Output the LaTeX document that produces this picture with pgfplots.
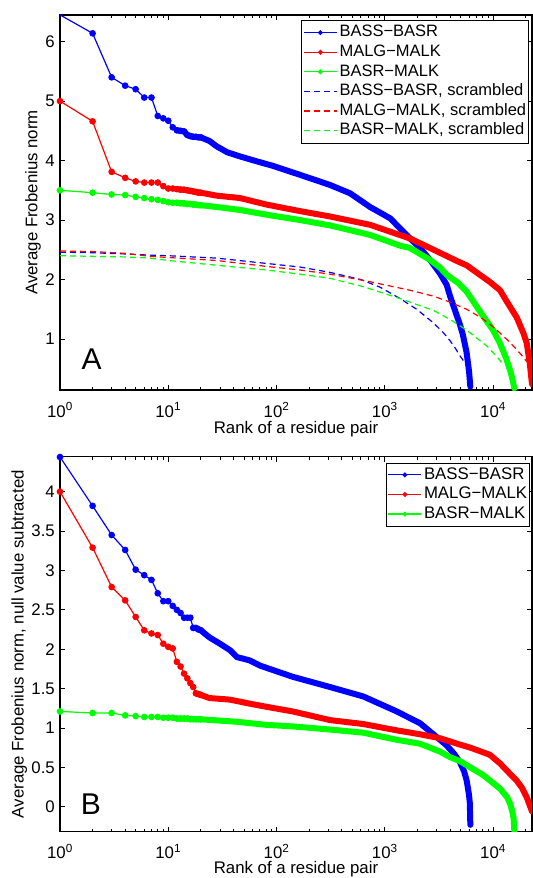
\documentclass[border=0pt]{standalone}
\usepackage{fontspec}
\setmainfont{Liberation Sans}
\usepackage{pgfplots}
\pgfplotsset{compat=1.18}
\definecolor{mblue}{RGB}{0,0,255}
\definecolor{mred}{RGB}{255,0,0}
\definecolor{mgreen}{RGB}{0,255,0}
\pgfplotsset{
  legend image code/.code={\draw[mark repeat=2,mark phase=2,#1,mark size=1.8bp] plot coordinates {(0bp,0bp) (16.5bp,0bp) (33bp,0bp)};},
}
\begin{document}
\fontsize{16.8bp}{20bp}\selectfont
\begin{tikzpicture}
\path[use as bounding box] (0bp,0bp) rectangle (533bp,-878bp);
% ---------------- Panel A ----------------
\begin{axis}[at={(60bp,-390bp)}, anchor=south west,
  scale only axis, width=472bp, height=375bp,
  xmode=log, xmin=1, xmax=22900,
  xtick={1,10,100,1000,10000},
  xticklabels={10\textsuperscript{0},10\textsuperscript{1},10\textsuperscript{2},10\textsuperscript{3},10\textsuperscript{4}},
  minor xtick={2,3,4,5,6,7,8,9,20,30,40,50,60,70,80,90,200,300,400,500,600,700,800,900,2000,3000,4000,5000,6000,7000,8000,9000,20000},
  tick align=inside,
  major tick length=5bp, minor tick length=3bp,
  tick style={black, line width=0.8bp},
  axis line style={line width=1.3bp},
  xticklabel style={anchor=base, yshift=-27bp, inner sep=0pt},
  yticklabel style={anchor=east, xshift=-5bp, inner sep=0pt},
  xlabel style={at={(axis description cs:0.5,-0.1147)}, anchor=base, inner sep=0pt},
  ymin=0.142, ymax=6.448,
  ytick={1,2,3,4,5,6}, yticklabels={1,2,3,4,5,6},
  xlabel={Rank of a residue pair},
  ylabel={Average Frobenius norm},
  ylabel style={at={(axis description cs:-0.0572,0.5)}, anchor=center, inner sep=0pt},
  legend cell align=left,
  legend style={at={(axis description cs:0.9936,0.9867)}, anchor=north east, draw=black, line width=0.7bp, inner xsep=1.5bp, inner ysep=2.5bp, row sep=0pt,
      font=\fontsize{16.5bp}{20bp}\selectfont,
      /tikz/every odd column/.append style={column sep=1bp},
      nodes={inner xsep=1bp, inner ysep=1.6bp, text height=12.4bp, text depth=4bp}},
]
\addplot[color=mblue, draw=mblue, line width=1.2bp, mark=*, mark size=2.7bp, mark options={solid, fill=mblue, draw=mblue}] coordinates {(1,6.45) (2,6.14) (3,5.40) (4,5.26) (5,5.20) (6,5.06) (7,5.06) (8,4.75) (9,4.71) (10,4.67) (11,4.56) (12,4.51) (13,4.50) (14,4.49) (15,4.43) (16,4.41) (17,4.40) (18,4.40) (19,4.39) (20,4.39)};
\addplot[color=mblue, draw=mblue, line width=6bp, line join=round, line cap=round, forget plot] coordinates {(12,4.51) (14,4.49) (15,4.43) (17,4.40) (20,4.39) (24,4.33) (28,4.24) (35,4.14) (46,4.07) (65,3.99) (93,3.91) (165,3.76) (312,3.59) (478,3.45) (731,3.22) (1119,3.03) (1711,2.69) (2117,2.53) (2618,2.33) (3238,2.10) (3733,1.91) (4010,1.72) (4571,1.42) (4930,1.25) (5248,1.08) (5690,0.78) (6000,0.46) (6166,0.20)};
\addplot[color=mred, draw=mred, line width=1.2bp, mark=*, mark size=2.7bp, mark options={solid, fill=mred, draw=mred}] coordinates {(1,5.00) (2,4.66) (3,3.81) (4,3.71) (5,3.65) (6,3.63) (7,3.63) (8,3.63) (9,3.57) (10,3.53) (11,3.53) (12,3.52) (13,3.51) (14,3.51) (15,3.50) (16,3.49) (17,3.48) (18,3.47) (19,3.46) (20,3.46)};
\addplot[color=mred, draw=mred, line width=6bp, line join=round, line cap=round, forget plot] coordinates {(12,3.52) (14,3.51) (20,3.46) (28,3.41) (46,3.37) (81,3.26) (165,3.15) (312,3.06) (731,2.92) (1711,2.69) (2618,2.53) (4782,2.30) (5690,2.24) (9333,1.96) (11600,1.82) (13183,1.65) (16570,1.36) (19055,1.10) (20470,0.93) (21800,0.60) (22900,0.24)};
\addplot[color=mgreen, draw=mgreen, line width=1.2bp, mark=*, mark size=2.7bp, mark options={solid, fill=mgreen, draw=mgreen}] coordinates {(1,3.50) (2,3.46) (3,3.43) (4,3.42) (5,3.39) (6,3.37) (7,3.35) (8,3.34) (9,3.32) (10,3.30) (11,3.29) (12,3.29) (13,3.28) (14,3.28) (15,3.27) (16,3.27) (17,3.26) (18,3.26) (19,3.25) (20,3.25)};
\addplot[color=mgreen, draw=mgreen, line width=6bp, line join=round, line cap=round, forget plot] coordinates {(12,3.29) (14,3.28) (20,3.25) (28,3.22) (46,3.17) (81,3.09) (165,3.00) (312,2.91) (731,2.75) (1383,2.57) (1711,2.53) (2618,2.33) (3238,2.20) (3733,2.08) (4782,1.94) (5690,1.80) (7850,1.42) (10000,1.15) (11500,0.94) (13183,0.68) (14500,0.45) (15300,0.28) (15730,0.17)};
\addplot[color=mblue, draw=mblue, line width=1.2bp, dash pattern=on 6bp off 4bp] coordinates {(1,2.46) (2,2.45) (4,2.43) (6.8,2.41) (10,2.40) (28,2.36) (81,2.27) (165,2.21) (312,2.12) (600,2.00) (906,1.87) (1383,1.68) (1970,1.50) (2818,1.27) (3500,1.10) (4010,0.97) (4500,0.84) (4930,0.72) (5350,0.63) (5690,0.55)};
\addplot[color=mred, draw=mred, line width=1.2bp, dash pattern=on 6bp off 4bp] coordinates {(1,2.48) (2,2.47) (4,2.44) (6.8,2.39) (10,2.37) (28,2.32) (81,2.22) (165,2.16) (312,2.09) (700,1.97) (1711,1.82) (2818,1.72) (4000,1.62) (5690,1.50) (7585,1.37) (9500,1.24) (11600,1.10) (14000,0.96) (16570,0.82) (18500,0.72) (20470,0.62)};
\addplot[color=mgreen, draw=mgreen, line width=1.2bp, dash pattern=on 6bp off 4bp] coordinates {(1,2.40) (2,2.39) (4,2.38) (6.8,2.36) (10,2.32) (28,2.24) (81,2.16) (165,2.09) (312,2.02) (634,1.88) (1383,1.68) (2818,1.48) (4000,1.33) (5690,1.15) (7000,1.02) (8800,0.88) (10500,0.73) (11600,0.64) (12500,0.55)};
\legend{BASS−BASR, MALG−MALK, BASR−MALK, {BASS−BASR, scrambled}, {MALG−MALK, scrambled}, {BASR−MALK, scrambled}}
\node[font=\fontsize{30bp}{36bp}\selectfont, inner sep=0pt] at (axis description cs:0.0672,0.0827) {A};
\end{axis}
% ---------------- Panel B ----------------
\begin{axis}[at={(60bp,-831.7bp)}, anchor=south west,
  scale only axis, width=472bp, height=375bp,
  xmode=log, xmin=1, xmax=22900,
  xtick={1,10,100,1000,10000},
  xticklabels={10\textsuperscript{0},10\textsuperscript{1},10\textsuperscript{2},10\textsuperscript{3},10\textsuperscript{4}},
  minor xtick={2,3,4,5,6,7,8,9,20,30,40,50,60,70,80,90,200,300,400,500,600,700,800,900,2000,3000,4000,5000,6000,7000,8000,9000,20000},
  tick align=inside,
  major tick length=5bp, minor tick length=3bp,
  tick style={black, line width=0.8bp},
  axis line style={line width=1.3bp},
  xticklabel style={anchor=base, yshift=-27bp, inner sep=0pt},
  yticklabel style={anchor=east, xshift=-5bp, inner sep=0pt},
  xlabel style={at={(axis description cs:0.5,-0.1127)}, anchor=base, inner sep=0pt},
  ymin=-0.317, ymax=4.444,
  ytick={0,0.5,1,1.5,2,2.5,3,3.5,4}, yticklabels={0,0.5,1,1.5,2,2.5,3,3.5,4},
  xlabel={Rank of a residue pair},
  ylabel={Average Frobenius norm, null value subtracted},
  ylabel style={at={(axis description cs:-0.0862,0.5)}, anchor=center, inner sep=0pt},
  legend cell align=left,
  legend style={at={(axis description cs:0.9958,0.984)}, anchor=north east, draw=black, line width=0.7bp, inner xsep=1.5bp, inner ysep=2bp, row sep=0pt,
      font=\fontsize{16.8bp}{20bp}\selectfont,
      /tikz/every odd column/.append style={column sep=1bp},
      nodes={inner xsep=1bp, inner ysep=1.6bp, text height=12.4bp, text depth=4bp}},
]
\addplot[color=mblue, draw=mblue, line width=1.2bp, mark=*, mark size=2.7bp, mark options={solid, fill=mblue, draw=mblue}] coordinates {(1,4.44) (2,3.82) (3,3.45) (4,3.26) (5,3.01) (6,2.94) (7,2.88) (8,2.71) (9,2.61) (10,2.61) (11,2.55) (12,2.50) (13,2.46) (14,2.40) (15,2.40) (16,2.40) (17,2.27) (18,2.27) (19,2.25) (20,2.24)};
\addplot[color=mblue, draw=mblue, line width=6bp, line join=round, line cap=round, forget plot] coordinates {(17,2.27) (18,2.27) (20,2.24) (24,2.15) (30,2.07) (37,1.99) (43,1.90) (56,1.86) (71,1.79) (141,1.65) (312,1.52) (634,1.40) (1290,1.21) (2117,1.06) (3238,0.85) (3715,0.78) (4320,0.68) (4930,0.57) (5400,0.45) (5690,0.34) (6000,0.15) (6100,0.05) (6170,-0.23)};
\addplot[color=mred, draw=mred, line width=1.2bp, mark=*, mark size=2.7bp, mark options={solid, fill=mred, draw=mred}] coordinates {(1,4.00) (2,3.29) (3,2.79) (4,2.62) (5,2.41) (6,2.24) (7,2.20) (8,2.18) (9,2.07) (10,2.03) (11,2.01) (12,1.84) (13,1.78) (14,1.69) (15,1.63) (16,1.57) (17,1.52) (18,1.44) (19,1.43) (20,1.42)};
\addplot[color=mred, draw=mred, line width=6bp, line join=round, line cap=round, forget plot] coordinates {(18,1.44) (20,1.42) (24,1.38) (37,1.36) (56,1.31) (80,1.27) (141,1.21) (312,1.10) (634,1.05) (1290,0.97) (2117,0.92) (3238,0.87) (4930,0.79) (6166,0.75) (9333,0.66) (11600,0.55) (13183,0.47) (16570,0.33) (18500,0.24) (20470,0.12) (22900,-0.06)};
\addplot[color=mgreen, draw=mgreen, line width=1.2bp, mark=*, mark size=2.7bp, mark options={solid, fill=mgreen, draw=mgreen}] coordinates {(1,1.21) (2,1.19) (3,1.19) (4,1.16) (5,1.15) (6,1.14) (7,1.14) (8,1.14) (9,1.13) (10,1.13) (11,1.13) (12,1.12) (13,1.12) (14,1.12) (15,1.12) (16,1.11) (17,1.11) (18,1.11) (19,1.11) (20,1.11)};
\addplot[color=mgreen, draw=mgreen, line width=6bp, line join=round, line cap=round, forget plot] coordinates {(12,1.12) (14,1.12) (20,1.11) (42,1.08) (80,1.04) (141,1.02) (312,0.98) (634,0.94) (1290,0.85) (2117,0.80) (3238,0.70) (4010,0.63) (4930,0.58) (8150,0.40) (11600,0.23) (13500,0.12) (14350,0.04) (15000,-0.05) (15500,-0.15) (15730,-0.31)};
\legend{BASS−BASR, MALG−MALK, BASR−MALK}
\node[font=\fontsize{30bp}{36bp}\selectfont, inner sep=0pt] at (axis description cs:0.0653,0.0739) {B};
\end{axis}
\end{tikzpicture}
\end{document}
